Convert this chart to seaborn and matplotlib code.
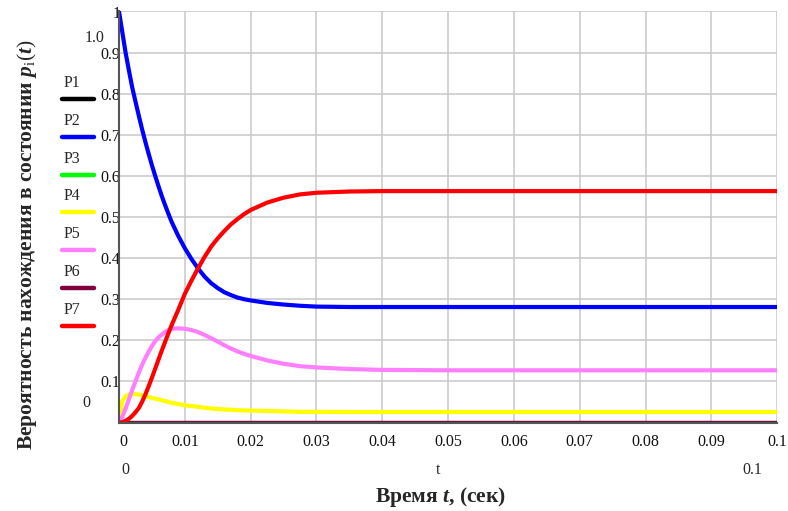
import matplotlib
matplotlib.use('Agg')
import matplotlib.pyplot as plt
from matplotlib.lines import Line2D
import seaborn as sns
import pandas as pd
import numpy as np

# values
t = [0, 0.0005, 0.001, 0.0015, 0.002, 0.0025, 0.003, 0.0035, 0.004, 0.0045,
     0.005, 0.0055, 0.006, 0.0065, 0.007, 0.0075,
     0.008, 0.009, 0.010, 0.011, 0.012, 0.013, 0.014, 0.015, 0.016, 0.017,
     0.018, 0.019, 0.020,
     0.0225, 0.025, 0.0275, 0.030, 0.035, 0.040, 0.050, 0.060, 0.070, 0.080,
     0.090, 0.100]

p1 = [0.0] * len(t)
p2 = [1.000, 0.950, 0.900, 0.857, 0.816, 0.781, 0.747, 0.714, 0.683, 0.654,
      0.626, 0.600, 0.575, 0.551, 0.529, 0.508,
      0.488, 0.454, 0.424, 0.398, 0.375, 0.355, 0.339, 0.327, 0.317, 0.310,
      0.304, 0.300, 0.297,
      0.291, 0.287, 0.284, 0.282, 0.281, 0.281, 0.281, 0.281, 0.281, 0.281,
      0.281, 0.281]
p3 = [0.0] * len(t)
p4 = [0.0, 0.052, 0.064, 0.068, 0.069, 0.069, 0.068, 0.066, 0.064, 0.062,
      0.060, 0.058, 0.056, 0.054, 0.052, 0.050,
      0.048, 0.045, 0.042, 0.040, 0.038, 0.036, 0.034, 0.033, 0.0315, 0.031,
      0.030, 0.0295, 0.029,
      0.028, 0.027, 0.026, 0.0258, 0.0255, 0.0255, 0.0255, 0.0255, 0.0255, 0.0255,
      0.0255, 0.0255]
p5 = [0.0, 0.014, 0.034, 0.056, 0.079, 0.100, 0.121, 0.140, 0.157, 0.172,
      0.186, 0.198, 0.207, 0.214, 0.220, 0.225,
      0.228, 0.229, 0.228, 0.225, 0.220, 0.213, 0.205, 0.197, 0.188, 0.180,
      0.173, 0.167, 0.162,
      0.151, 0.143, 0.137, 0.134, 0.130, 0.128, 0.127, 0.127, 0.127, 0.127,
      0.127, 0.127]
p6 = [0.0] * len(t)
p7 = [0.0, 0.001, 0.004, 0.009, 0.016, 0.025, 0.035, 0.050, 0.068, 0.088,
      0.109, 0.131, 0.153, 0.175, 0.196, 0.217,
      0.237, 0.274, 0.313, 0.345, 0.375, 0.403, 0.428, 0.448, 0.466, 0.482,
      0.495, 0.507, 0.517,
      0.535, 0.547, 0.555, 0.559, 0.562, 0.563, 0.563, 0.563, 0.563, 0.563,
      0.563, 0.563]

names = ['P1', 'P2', 'P3', 'P4', 'P5', 'P6', 'P7']
colors = ['#000000', '#0000ff', '#00ff00', '#ffff00', '#ff80ff', '#800040', '#ff0000']
series = [p1, p2, p3, p4, p5, p6, p7]

df = pd.concat([pd.DataFrame({'t': t, 'p': s, 'name': n}) for n, s in zip(names, series)])

sns.set_theme(style='white')
plt.rcParams['font.family'] = ['Liberation Serif', 'DejaVu Serif']
plt.rcParams['mathtext.fontset'] = 'custom'
plt.rcParams['mathtext.rm'] = 'Liberation Serif'
plt.rcParams['mathtext.it'] = 'Liberation Serif:italic'
plt.rcParams['mathtext.bf'] = 'Liberation Serif:bold'
plt.rcParams['mathtext.bfit'] = 'Liberation Serif:italic:bold'

W, H = 788, 511
fig = plt.figure(figsize=(W / 100, H / 100), dpi=100)
ax = fig.add_axes([119 / W, 1 - 422.5 / H, 658.3 / W, 411 / H])

sns.lineplot(data=df, x='t', y='p', hue='name', palette=colors, linewidth=3,
             legend=False, ax=ax, estimator=None, solid_joinstyle='round')

ax.set_xlim(0, 0.1)
ax.set_ylim(0, 1)
ax.set_xticks(np.arange(0, 0.1001, 0.01))
ax.set_yticks(np.arange(0, 1.001, 0.1))
ax.set_xticklabels(['0', '0.01', '0.02', '0.03', '0.04', '0.05', '0.06', '0.07', '0.08', '0.09', '0.1'])
ax.set_yticklabels(['', '0.1', '0.2', '0.3', '0.4', '0.5', '0.6', '0.7', '0.8', '0.9', '1'])
ax.get_xticklabels()[0].set_ha('left')
ax.grid(True, color='#c8c8c8', linewidth=1.1)
ax.set_axisbelow(True)
for s in ['top', 'right']:
    ax.spines[s].set_visible(False)
for s in ['left', 'bottom']:
    ax.spines[s].set_color('#555555')
    ax.spines[s].set_linewidth(1.5)
ax.tick_params(axis='both', direction='inout', length=6, width=1.2, color='#222222',
               labelsize=11.5, labelcolor='#111111')
ax.tick_params(axis='y', pad=-4)
ax.tick_params(axis='x', pad=5)
ax.set_xlabel('')
ax.set_ylabel('')

def fx(px):
    return px / W

def fy(py):
    return 1 - py / H

fig.text(fx(27), fy(245), r'Вероятность нахождения в состоянии $\mathbfit{p}_{\mathrm{i}}(\mathbfit{t})$',
         rotation=90, ha='center', va='center', fontsize=15.5, fontweight='bold')
fig.text(fx(441), fy(497), r'Время $\mathbfit{t}$, (сек)', ha='center', va='center',
         fontsize=15.5, fontweight='bold')

# Mathcad range markers
fig.text(fx(95), fy(38), '1.0', ha='center', va='center', fontsize=11.5)
fig.text(fx(86), fy(403), '0', ha='center', va='center', fontsize=11.5)
fig.text(fx(125), fy(470), '0', ha='center', va='center', fontsize=11.5)
fig.text(fx(438), fy(470), 't', ha='center', va='center', fontsize=11.5)
fig.text(fx(752), fy(470), '0.1', ha='center', va='center', fontsize=11.5)

# legend on the left
for i, (n, c) in enumerate(zip(names, colors)):
    yl = 99 + i * 37.8
    fig.add_artist(Line2D([fx(62), fx(94)], [fy(yl), fy(yl)], color=c, linewidth=3.2,
                          solid_capstyle='round'))
    fig.text(fx(64), fy(yl - 16), n, ha='left', va='center', fontsize=11.5)

fig.savefig('out.png', dpi=100)
